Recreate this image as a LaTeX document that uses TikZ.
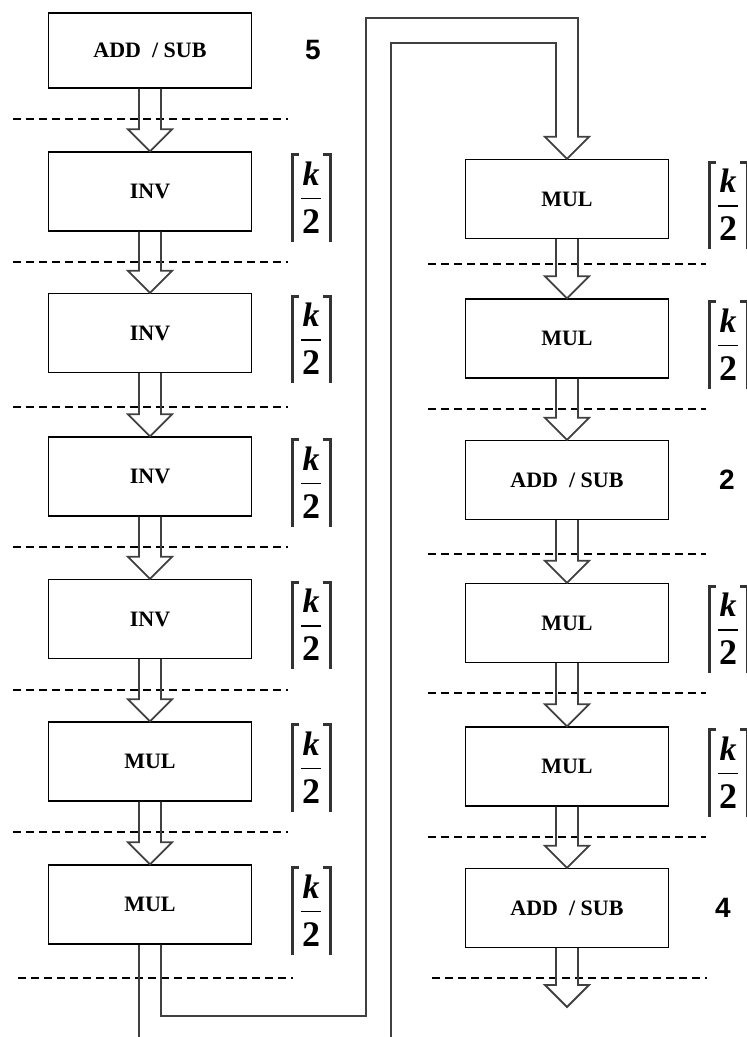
\documentclass[tikz,border=0pt]{standalone}
\usepackage{fontspec}
\setmainfont{Liberation Serif}
\newfontfamily\numfont{Liberation Sans}
\newcommand\harrow[2]{%
  \draw[shaft] ([xshift=-11pt]#1.south) -- ([xshift=-11pt,yshift=22pt]#2)
    -- ([xshift=-22pt,yshift=22pt]#2) -- (#2) -- ([xshift=22pt,yshift=22pt]#2)
    -- ([xshift=11pt,yshift=22pt]#2) -- ([xshift=11pt]#1.south);}
\begin{document}
\begin{tikzpicture}[x=1pt,y=-1pt,
  box/.style={draw, line width=1.4pt, minimum width=203pt, minimum height=79pt,
    inner sep=0pt, font=\fontsize{22}{24}\selectfont\bfseries},
  shaft/.style={draw=black!75, line width=1.8pt, line join=miter},
  sep/.style={dash pattern=on 8pt off 5pt, line width=1.2pt},
  num/.style={font=\numfont\fontsize{28}{30}\selectfont\bfseries},
  ceil/.pic={
    \draw[line width=3pt, black!80] (7,-37) -- (0,-37) -- (0,50);
    \draw[line width=3pt, black!80] (31,-37) -- (38,-37) -- (38,50);
    \node[font=\fontsize{34}{34}\selectfont\bfseries\itshape, inner sep=0pt] (-k) at (19,-18) {k};
    \draw[line width=1.8pt] (9,7) -- (29,7);
    \node[font=\fontsize{36}{36}\selectfont\bfseries, inner sep=0pt] (-two) at (19,30) {2};
  }]
\useasboundingbox (0,0) rectangle (747,1037);
\clip (0,0) rectangle (747,1037);

% separators
\foreach \y in {119,262,407,547,690,832} \draw[sep] (13,\y) -- (288,\y);
\draw[sep] (18,978) -- (293,978);
\foreach \y in {264,409,554,693,837} \draw[sep] (428,\y) -- (706,\y);
\draw[sep] (432,978) -- (707,978);

% left column
\node[box, minimum height=75pt] (L1) at (150,50.5) {ADD~ / SUB};
\node[box] (L2) at (150,191.5) {INV};
\node[box] (L3) at (150,333) {INV};
\node[box] (L4) at (150,476.5) {INV};
\node[box] (L5) at (150,619) {INV};
\node[box] (L6) at (150,761.5) {MUL};
\node[box] (L7) at (150,904.5) {MUL};

% right column
\node[box] (R1) at (567,199) {MUL};
\node[box] (R2) at (567,338.5) {MUL};
\node[box] (R3) at (567,480) {ADD~ / SUB};
\node[box] (R4) at (567,623) {MUL};
\node[box] (R5) at (567,766.5) {MUL};
\node[box] (R6) at (567,908) {ADD~ / SUB};

% labels
\node[num] (n5) at (313,50) {5};
\node[num] (n2) at (727,480) {2};
\node[num] (n4) at (723,908) {4};
\pic (c2) at (292,191.5) {ceil};
\pic (c3) at (292,333) {ceil};
\pic (c4) at (292,476.5) {ceil};
\pic (c5) at (292,619) {ceil};
\pic (c6) at (292,761.5) {ceil};
\pic (c7) at (292,904.5) {ceil};
\pic (d1) at (709,199) {ceil};
\pic (d2) at (709,338.5) {ceil};
\pic (d4) at (709,623) {ceil};
\pic (d5) at (709,766.5) {ceil};

% arrows
\harrow{L1}{L2.north}
\harrow{L2}{L3.north}
\harrow{L3}{L4.north}
\harrow{L4}{L5.north}
\harrow{L5}{L6.north}
\harrow{L6}{L7.north}
\harrow{R1}{R2.north}
\harrow{R2}{R3.north}
\harrow{R3}{R4.north}
\harrow{R4}{R5.north}
\harrow{R5}{R6.north}
\coordinate (end) at (567,1007);
\harrow{R6}{end}

% long connector from L7 to R1
\coordinate (b2) at (366,1016);
\coordinate (b4) at (578,18);
\coordinate (b6) at (391,43);
\coordinate (b7) at (391,1045);
\coordinate (b8) at (139,1045);
\draw[shaft] ([xshift=11pt]L7.south) |- (b2) |- (b4)
  -- ([xshift=11pt,yshift=22pt]R1.north) -- ([xshift=22pt,yshift=22pt]R1.north)
  -- (R1.north) -- ([xshift=-22pt,yshift=22pt]R1.north)
  -- ([xshift=-11pt,yshift=22pt]R1.north) |- (b6) -- (b7);
\draw[shaft] ([xshift=-11pt]L7.south) -- (b8);
\end{tikzpicture}
\end{document}
